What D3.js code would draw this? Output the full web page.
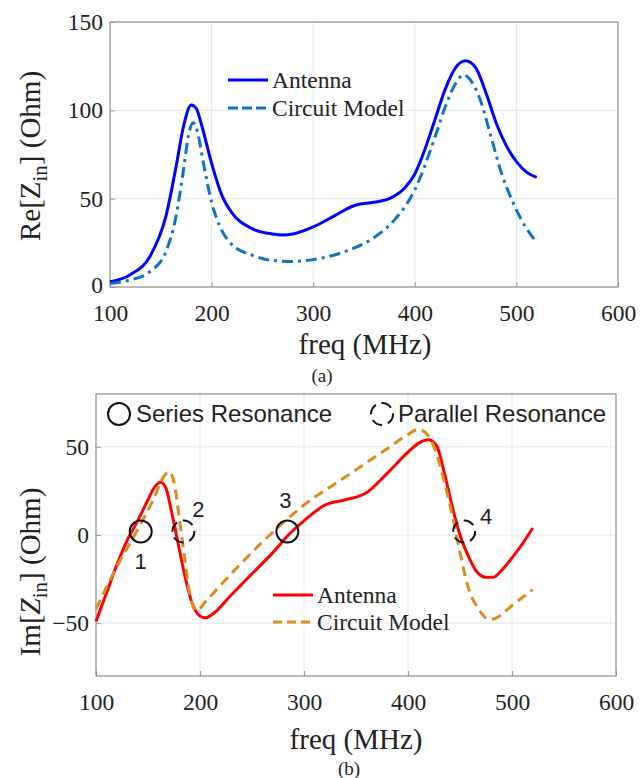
<!DOCTYPE html>
<html>
<head>
<meta charset="UTF-8">
<title>Zin</title>
<style>
  body { margin: 0; background: #fff; }
  text { font-family: "Liberation Serif", "Times New Roman", serif; fill: #222; }
  .sans { font-family: "Liberation Sans", Arial, sans-serif; }
</style>
</head>
<body>
<script src="https://cdn.jsdelivr.net/npm/d3@7"></script>
<div id="chart"></div>
<script>
// --- data ---
const reFreq = [100,120,140,155,165,172,180,185,190,200,210,220,240,260,270,280,300,320,340,360,375,390,400,410,420,430,440,450,460,470,480,490,500,510,520];
const reAntenna = [3,7,18,40,68,90,103,101,92,70,52,42,33,30,29.5,30,34,40,46,48,50,56,64,78,95,112,124,128,124,110,93,80,71,65,62];

const reModelFreq = [100,120,140,155,165,172,178,182,186,192,200,210,220,240,260,280,300,320,340,360,380,400,420,430,440,448,455,465,475,485,495,505,520];
const reModel = [2,4,9,20,40,65,88,93,88,70,48,32,24,18,15,14.5,15.5,18,22,28,38,55,85,102,115,120,117,105,85,65,50,38,25];

const imFreq = [100,110,120,130,140,150,155,162,167,172,178,185,192,200,205,212,230,250,270,285,300,320,340,360,380,400,410,420,428,435,443,450,458,465,475,482,490,500,510,520];
const imAntenna = [-49,-33,-17,-3,8,20,26,30,27,15,-2,-22,-38,-46,-47,-45,-34,-22,-10,0,8,17,20,24,35,47,52,54,50,35,15,0,-12,-20,-24,-24,-20,-13,-5,4];

const imModelFreq = [100,120,140,155,165,170,175,180,185,190,197,205,230,260,280,300,340,380,400,410,417,425,435,443,450,458,468,478,485,500,520];
const imModel = [-42,-18,3,20,33,36,30,10,-12,-33,-43,-38,-22,-4,7,17,33,49,57,60,58,50,30,10,-10,-30,-42,-48,-47,-40,-31];

const xTicks = [100,200,300,400,500,600];
const reTicks = [0,50,100,150];
const imTicks = [-50,0,50];

// resonance markers
const markerFreq = [143, 184, 284, 454];
const markerVal = [2, 2, 2, 2];
const markerLabel = ["1","2","3","4"];
const markerType = ["series","parallel","series","parallel"];
const labelDx = [0, 15, -2, 22];
const labelDy = [30, -22, -31, -15];

const W = 640, H = 778;
const svg = d3.select("#chart").append("svg").attr("width", W).attr("height", H);

function panel(box, yDomain, yTicks) {
  const x = d3.scaleLinear().domain([100, 600]).range([box.l, box.r]);
  const y = d3.scaleLinear().domain(yDomain).range([box.b, box.t]);
  const g = svg.append("g");
  // grid
  g.selectAll(".gx").data(xTicks.slice(1, -1)).join("line")
    .attr("x1", d => x(d)).attr("x2", d => x(d)).attr("y1", box.t).attr("y2", box.b)
    .attr("stroke", "#e6e6e6").attr("stroke-width", 1);
  g.selectAll(".gy").data(yTicks.filter(d => d > yDomain[0] && d < yDomain[1])).join("line")
    .attr("y1", d => y(d)).attr("y2", d => y(d)).attr("x1", box.l).attr("x2", box.r)
    .attr("stroke", "#e6e6e6").attr("stroke-width", 1);
  // axes with inward ticks
  g.append("g").attr("transform", `translate(0,${box.b})`)
    .call(d3.axisBottom(x).tickValues(xTicks).tickSize(-5).tickPadding(17))
    .call(a => a.select(".domain").remove())
    .call(a => a.selectAll("line").attr("stroke", "#999"))
    .call(a => a.selectAll("text").attr("font-size", 23.5).attr("font-family", "Liberation Serif").attr("fill", "#222"));
  g.append("g").attr("transform", `translate(${box.l},0)`)
    .call(d3.axisLeft(y).tickValues(yTicks).tickSize(-5).tickPadding(7))
    .call(a => a.select(".domain").remove())
    .call(a => a.selectAll("line").attr("stroke", "#999"))
    .call(a => a.selectAll("text").attr("font-size", 23.5).attr("font-family", "Liberation Serif").attr("fill", "#222")
      .attr("dy", d => d === yDomain[0] ? "0.22em" : "0.32em"));
  // box
  g.append("rect").attr("x", box.l).attr("y", box.t)
    .attr("width", box.r - box.l).attr("height", box.b - box.t)
    .attr("fill", "none").attr("stroke", "#8c8c8c").attr("stroke-width", 1.2);
  return {x, y, g};
}

function curve(p, xs, ys, color, dash) {
  const line = d3.line().x((d, i) => p.x(xs[i])).y(d => p.y(d)).curve(d3.curveMonotoneX);
  p.g.append("path").datum(ys).attr("d", line)
    .attr("fill", "none").attr("stroke", color).attr("stroke-width", 3)
    .attr("stroke-dasharray", dash).attr("stroke-linejoin", "round");
}

function legend(items, x0, y0, dy) {
  items.forEach((it, i) => {
    const yy = y0 + i * dy;
    svg.append("line").attr("x1", x0).attr("x2", x0 + 40).attr("y1", yy).attr("y2", yy)
      .attr("stroke", it.color).attr("stroke-width", 3).attr("stroke-dasharray", it.dash);
    svg.append("text").attr("x", x0 + 44).attr("y", yy).attr("dy", "0.35em")
      .attr("font-size", 23.5).text(it.name);
  });
}

function yTitle(cx, cy, lead, italic) {
  const t = svg.append("text").attr("transform", `translate(${cx},${cy}) rotate(-90)`)
    .attr("text-anchor", "middle").attr("font-size", 29);
  t.append("tspan").text(lead + "[");
  t.append("tspan").attr("font-style", italic ? "italic" : "normal").text("Z");
  t.append("tspan").attr("font-size", 21).attr("dy", 7).text("in");
  t.append("tspan").attr("dy", -7).text(italic ? "]  (Ohm)" : "] (Ohm)");
}

// --- (a) real part ---
const pa = panel({l: 110, r: 618, t: 22, b: 287}, [0, 150], reTicks);
curve(pa, reFreq, reAntenna, "#0000ff", null);
curve(pa, reModelFreq, reModel, "#0f74c0", "11,5,3,5");
legend([{name: "Antenna", color: "#0000ff", dash: null},
        {name: "Circuit Model", color: "#0f74c0", dash: "10,4"}], 228, 80, 28);
yTitle(40, 156, "Re", false);
svg.append("text").attr("x", 365).attr("y", 344).attr("dy", "0.35em")
  .attr("text-anchor", "middle").attr("font-size", 29).text("freq (MHz)");
svg.append("text").attr("x", 322).attr("y", 375).attr("dy", "0.35em")
  .attr("text-anchor", "middle").attr("font-size", 19).text("(a)");

// --- (b) imaginary part ---
const pb = panel({l: 96, r: 616, t: 394, b: 676}, [-80, 80], imTicks);
curve(pb, imFreq, imAntenna, "#ff0000", null);
curve(pb, imModelFreq, imModel, "#de8c1c", "10,6");
legend([{name: "Antenna", color: "#ff0000", dash: null},
        {name: "Circuit Model", color: "#de8c1c", dash: "9,5"}], 273, 595, 27);
yTitle(40, 572, "Im", true);
svg.append("text").attr("x", 356).attr("y", 739).attr("dy", "0.35em")
  .attr("text-anchor", "middle").attr("font-size", 29).text("freq (MHz)");
svg.append("text").attr("x", 349).attr("y", 768).attr("dy", "0.35em")
  .attr("text-anchor", "middle").attr("font-size", 19).text("(b)");

// resonance markers
markerFreq.forEach((f, i) => {
  const cx = pb.x(f), cy = pb.y(markerVal[i]);
  svg.append("circle").attr("cx", cx).attr("cy", cy).attr("r", 11)
    .attr("fill", "none").attr("stroke", "#111").attr("stroke-width", 2)
    .attr("stroke-dasharray", markerType[i] === "parallel" ? "11,6" : null);
  svg.append("text").attr("class", "sans").attr("x", cx + labelDx[i]).attr("y", cy + labelDy[i])
    .attr("dy", "0.35em").attr("text-anchor", "middle").attr("font-size", 22).text(markerLabel[i]);
});

// marker legend
svg.append("circle").attr("cx", 119).attr("cy", 414).attr("r", 11)
  .attr("fill", "none").attr("stroke", "#111").attr("stroke-width", 2);
svg.append("text").attr("class", "sans").attr("x", 136).attr("y", 414).attr("dy", "0.35em")
  .attr("font-size", 24).text("Series Resonance");
svg.append("circle").attr("cx", 382).attr("cy", 414).attr("r", 11)
  .attr("fill", "none").attr("stroke", "#111").attr("stroke-width", 2).attr("stroke-dasharray", "11,6");
svg.append("text").attr("class", "sans").attr("x", 398).attr("y", 414).attr("dy", "0.35em")
  .attr("font-size", 24).text("Parallel Resonance");
</script>
</body>
</html>
